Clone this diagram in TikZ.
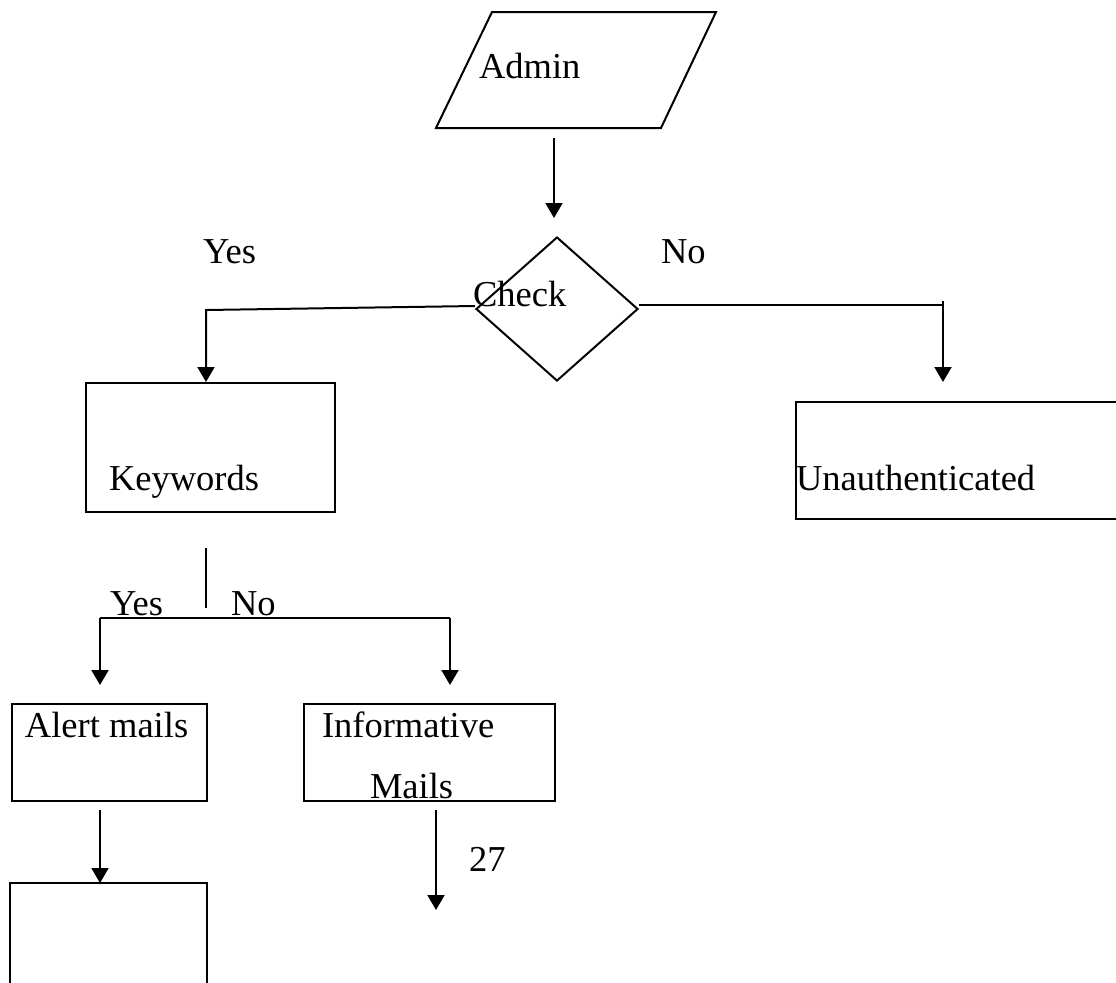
\documentclass[tikz,border=0pt]{standalone}
\usepackage{fontspec}
\setmainfont{Liberation Serif}
\usetikzlibrary{shapes.geometric,arrows.meta}
\begin{document}
\begin{tikzpicture}[x=0.5pt,y=-0.5pt,
  line width=1pt,
  arr/.style={-{Triangle[length=7.5pt,width=8.5pt]}},
  lbl/.style={anchor=base west,inner sep=0pt,font=\fontsize{18.25}{22}\selectfont},
  boxshape/.style={draw,rectangle,inner sep=0pt},
  decshape/.style={draw,diamond,inner sep=0pt,minimum width=81pt,minimum height=72pt}]
\useasboundingbox (0,0) rectangle (1116,982);
% shapes
\draw (436,128) -- (492,12) -- (716,12) -- (661,128) -- cycle;
\coordinate (adminout) at (554,138);
\coordinate (checkin) at (554,218);
\node[decshape] (check) at (557,309) {};
\node[boxshape,minimum width=124.5pt,minimum height=64.5pt] (kw) at (210.5,447.5) {};
\node[boxshape,minimum width=167pt,minimum height=58.5pt] (unauth) at (963,460.5) {};
\node[boxshape,minimum width=97.75pt,minimum height=48.5pt] (alert) at (109.25,752.5) {};
\node[boxshape,minimum width=125.5pt,minimum height=48.5pt] (info) at (429.5,752.5) {};
\draw (10,1000) -- (10,883) coordinate (lowtl) -- (207,883) -- (207,1000);
% texts
\node[lbl] (tadmin) at (478,78) {Admin};
\node[lbl] (tcheck) at (472,306) {Check};
\node[lbl] (tyes1) at (202,263) {Yes};
\node[lbl] (tno1) at (660,263) {No};
\node[lbl] (tkw) at (108,490) {Keywords};
\node[lbl] (tun) at (795,490) {Unauthenticated};
\node[lbl] (tyes2) at (109,615) {Yes};
\node[lbl] (tno2) at (230,615) {No};
\node[lbl] (talert) at (24,737) {Alert mails};
\node[lbl] (tinfo) at (321,737) {Informative};
\node[lbl] (tmails) at (369,798) {Mails};
\node[lbl] (tpage) at (468,871) {27};
% connectors
\draw[arr] (adminout) -- (checkin);
\coordinate (lcorner) at (206,310);
\draw[arr] ([yshift=1.5pt]check.west) -- (lcorner) -- (kw.north -| lcorner);
\coordinate (rcorner) at (943,305);
\coordinate (rtip) at (943,382);
\draw (check.east |- rcorner) -- (rcorner);
\draw[arr] (943,301) -- (rtip);
\coordinate (kwout) at (206,548);
\coordinate (kwend) at (206,608);
\draw (kwout) -- (kwend);
\coordinate (bl) at (100,618);
\coordinate (br) at (450,618);
\draw (bl) -- (br);
\draw[arr] (bl) -- (100,685) coordinate (bltip);
\draw[arr] (br) -- (450,685) coordinate (brtip);
\coordinate (alout) at (100,810);
\draw[arr] (alout) -- (lowtl -| alout);
\coordinate (inout) at (436,810);
\coordinate (intip) at (436,910);
\draw[arr] (inout) -- (intip);
\end{tikzpicture}
\end{document}
